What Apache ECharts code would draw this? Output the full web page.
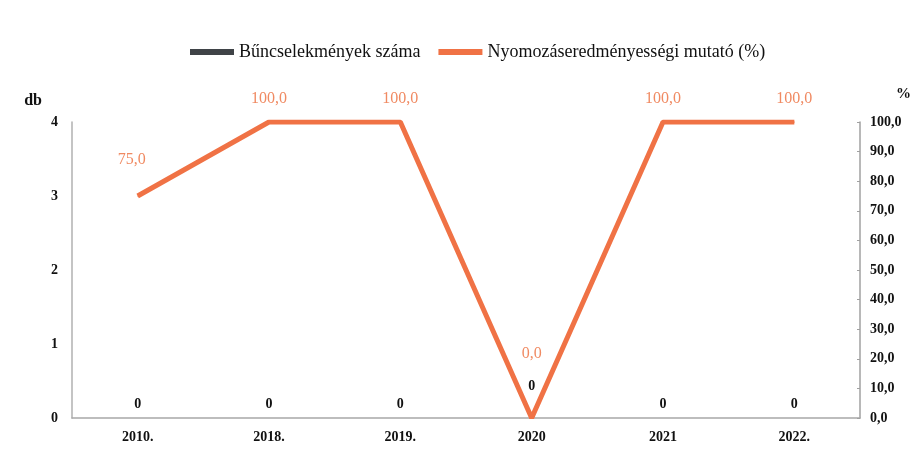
<!DOCTYPE html>
<html style="height: 100%">
<head>
    <meta charset="utf-8">
</head>
<body style="height: 100%; margin: 0; background: #fff">
    <div id="container" style="width: 920px; height: 467px"></div>
    <script src="https://cdn.jsdelivr.net/npm/echarts@6/dist/echarts.min.js"></script>
    <script type="text/javascript">
        var years = ['2010.', '2018.', '2019.', '2020', '2021', '2022.'];
        var crimes = [0, 0, 0, 0, 0, 0];
        var rate = [75.0, 100.0, 100.0, 0.0, 100.0, 100.0];
        var leftTicks = [0, 1, 2, 3, 4];

        var serif = '"Liberation Serif", "DejaVu Serif", serif';
        var myChart = echarts.init(document.getElementById('container'));

        var crimeData = crimes.map(function (v, i) {
            // the 2020 label sits higher in the original, clear of the line
            return years[i] === '2020' ? { value: v, label: { offset: [0, -18] } } : v;
        });
        var rateData = rate.map(function (v, i) {
            if (v === 0) return { value: v, label: { distance: 56 } };
            if (i === 0) return { value: v, label: { distance: 28, offset: [-6, 0] } };
            return v;
        });

        var option = {
            animation: false,
            textStyle: { fontFamily: serif },
            legend: {
                top: 38,
                left: 185,
                itemGap: 18,
                itemWidth: 44,
                itemHeight: 6,
                textStyle: { fontFamily: serif, fontSize: 18, color: '#111' },
                data: [
                    { name: 'Bűncselekmények száma', icon: 'rect' },
                    { name: 'Nyomozáseredményességi mutató (%)', icon: 'rect' }
                ]
            },
            grid: { left: 72, right: 60, top: 122, bottom: 49 },
            xAxis: {
                type: 'category',
                data: years,
                axisLine: { lineStyle: { color: '#a8a8a8', width: 1.5 } },
                axisTick: { show: false },
                axisLabel: { color: '#111', fontWeight: 'bold', fontSize: 14, margin: 12, fontFamily: serif }
            },
            yAxis: [
                {
                    type: 'value',
                    name: 'db',
                    nameLocation: 'end',
                    nameGap: 13,
                    nameTextStyle: { color: '#111', fontWeight: 'bold', fontSize: 16, align: 'right', padding: [0, 30, 0, 0] },
                    min: leftTicks[0],
                    max: leftTicks[leftTicks.length - 1],
                    interval: 1,
                    axisLine: { show: true, lineStyle: { color: '#b0b0b0', width: 1.5 } },
                    axisTick: { show: false },
                    splitLine: { show: false },
                    axisLabel: { color: '#111', fontWeight: 'bold', fontSize: 14, margin: 14 }
                },
                {
                    type: 'value',
                    name: '%',
                    nameLocation: 'end',
                    nameGap: 20,
                    nameTextStyle: { color: '#111', fontWeight: 'bold', fontSize: 15, align: 'left', padding: [0, 0, 0, 36] },
                    min: 0,
                    max: 100,
                    interval: 10,
                    position: 'right',
                    axisLine: { show: true, lineStyle: { color: '#a0a0a0', width: 1.5 } },
                    axisTick: { show: true, inside: true, length: 3, lineStyle: { color: '#a0a0a0' } },
                    splitLine: { show: false },
                    axisLabel: {
                        color: '#111', fontWeight: 'bold', fontSize: 14, margin: 10,
                        formatter: function (v) { return v.toFixed(1).replace('.', ','); }
                    }
                }
            ],
            series: [
                {
                    name: 'Bűncselekmények száma',
                    type: 'bar',
                    yAxisIndex: 0,
                    data: crimeData,
                    barWidth: 40,
                    itemStyle: { color: '#3f4347' },
                    label: {
                        show: true,
                        position: 'top',
                        distance: 7,
                        color: '#111',
                        fontWeight: 'bold',
                        fontSize: 14,
                        fontFamily: serif
                    }
                },
                {
                    name: 'Nyomozáseredményességi mutató (%)',
                    type: 'line',
                    yAxisIndex: 1,
                    data: rateData,
                    symbol: 'circle',
                    symbolSize: 1,
                    showSymbol: true,
                    lineStyle: { color: '#f07245', width: 5 },
                    itemStyle: { color: '#f07245' },
                    label: {
                        show: true,
                        position: 'top',
                        distance: 15,
                        color: '#f08a62',
                        fontSize: 16,
                        fontFamily: serif,
                        formatter: function (p) { return p.value.toFixed(1).replace('.', ','); }
                    }
                }
            ]
        };
        myChart.setOption(option);
    </script>
</body>
</html>
